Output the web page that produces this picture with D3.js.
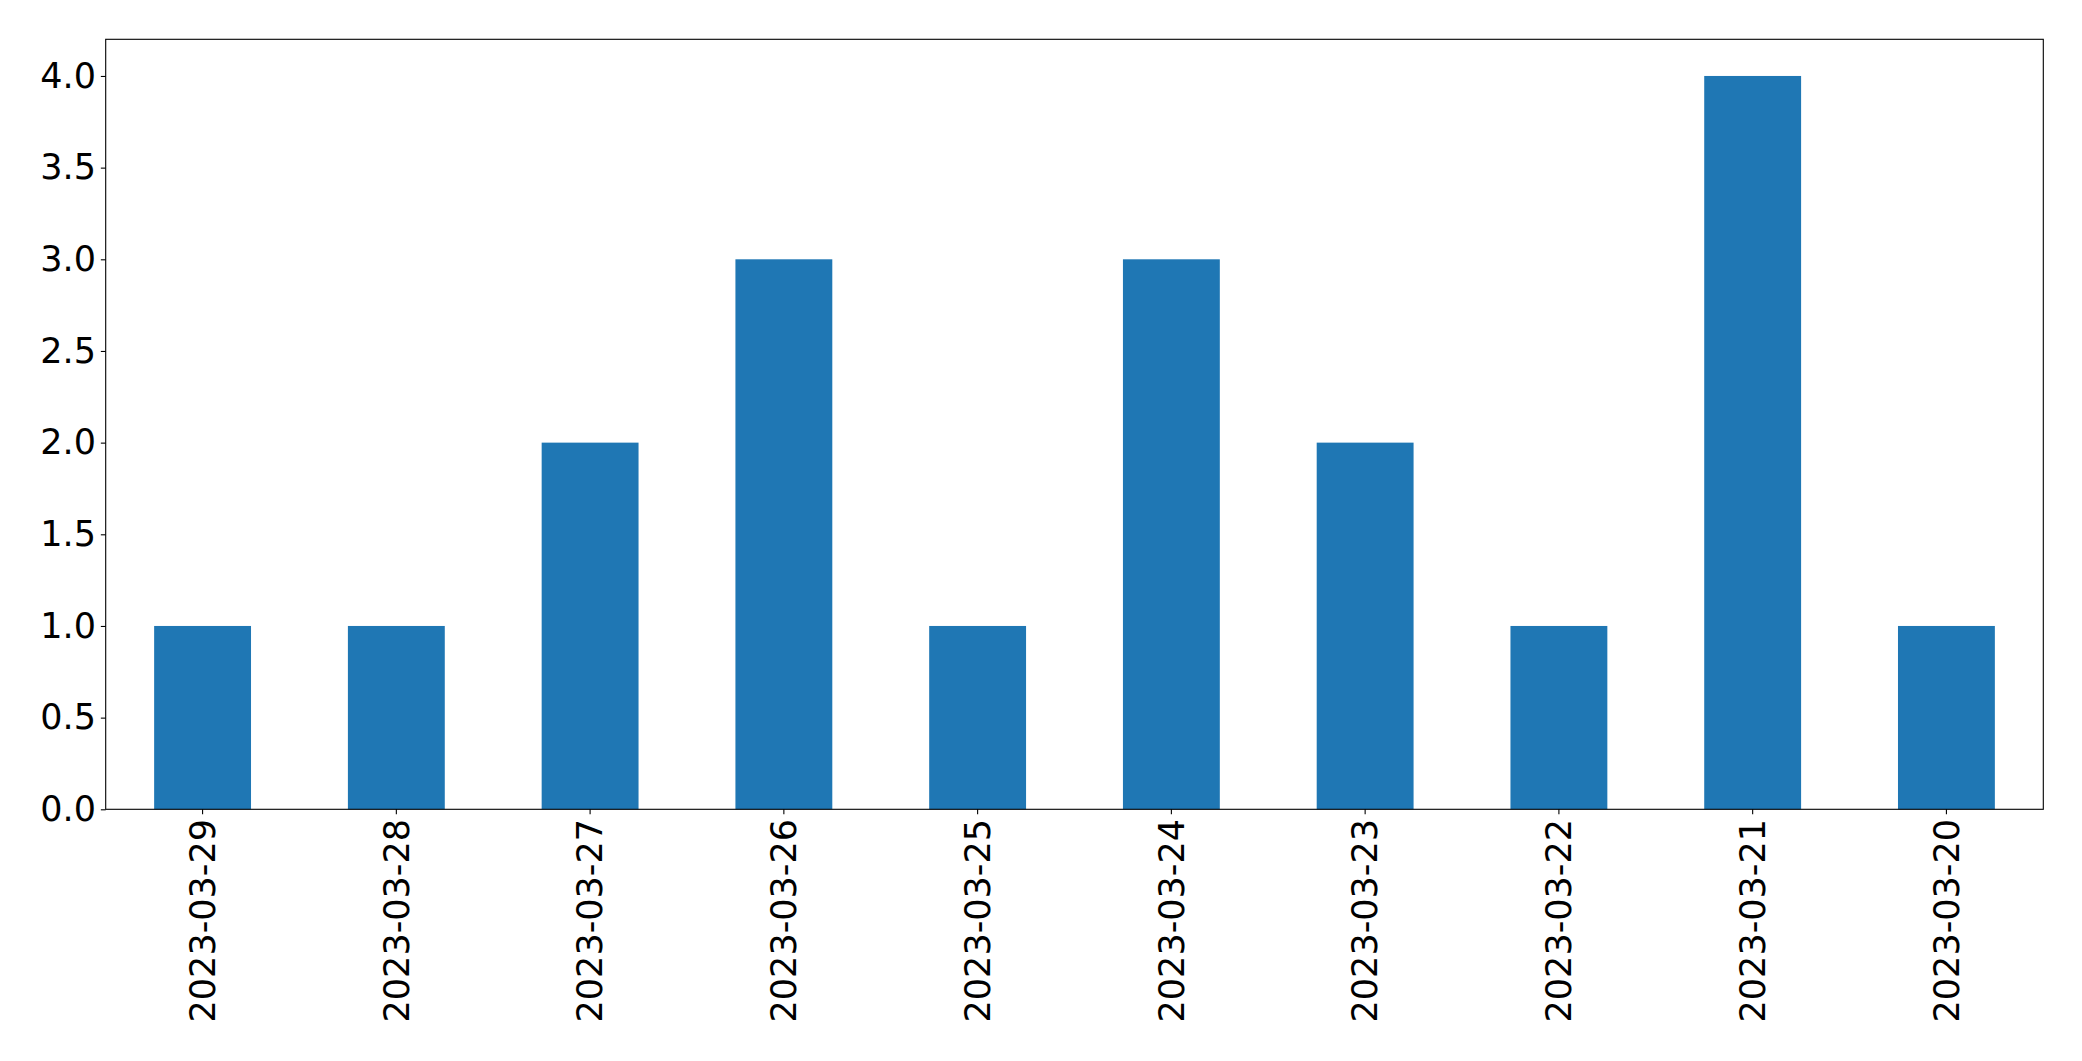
<!DOCTYPE html>
<html>
<head>
<meta charset="utf-8">
<script src="https://cdn.jsdelivr.net/npm/d3@7"></script>
<style>
  html, body { margin: 0; padding: 0; background: #fff; }
  svg { display: block; }
</style>
</head>
<body>
<script>
const categories = ["2023-03-29","2023-03-28","2023-03-27","2023-03-26","2023-03-25","2023-03-24","2023-03-23","2023-03-22","2023-03-21","2023-03-20"];
const values = [1,1,2,3,1,3,2,1,4,1];
const yTicks = [0,0.5,1,1.5,2,2.5,3,3.5,4];

const W = 2082, H = 1061;
const margin = {left: 105.7, right: W - 2043.3, top: 39.3, bottom: H - 809.3};
const fontSize = 35;
const tickLen = 4.86, tickPad = 4.86;

const svg = d3.select("body").append("svg").attr("width", W).attr("height", H)
  .style("font-family", "'DejaVu Sans', sans-serif");

const x = d3.scaleBand().domain(categories)
  .range([margin.left, W - margin.right])
  .paddingInner(0.5).paddingOuter(0.25);
const y = d3.scaleLinear().domain([0, 4.2]).range([H - margin.bottom, margin.top]);

svg.append("g").selectAll("rect").data(values).join("rect")
  .attr("x", (d, i) => x(categories[i]))
  .attr("width", x.bandwidth())
  .attr("y", d => y(d))
  .attr("height", d => y(0) - y(d))
  .attr("fill", "#1f77b4");

// Y axis
const yAxis = svg.append("g").attr("transform", `translate(${margin.left},0)`)
  .call(d3.axisLeft(y).tickValues(yTicks).tickFormat(d3.format(".1f")).tickSize(tickLen).tickPadding(tickPad));
yAxis.select(".domain").remove();
yAxis.selectAll("text").attr("font-size", fontSize).attr("font-family", "'DejaVu Sans', sans-serif").attr("fill", "#000");
yAxis.selectAll("line").attr("stroke", "#000").attr("stroke-width", 1.1);

// X axis
const xAxis = svg.append("g").attr("transform", `translate(0,${H - margin.bottom})`)
  .call(d3.axisBottom(x).tickSize(tickLen).tickPadding(tickPad));
xAxis.select(".domain").remove();
xAxis.selectAll("line").attr("stroke", "#000").attr("stroke-width", 1.1);
xAxis.selectAll("text")
  .attr("font-size", fontSize).attr("font-family", "'DejaVu Sans', sans-serif").attr("fill", "#000")
  .attr("transform", `translate(0,${tickLen + tickPad}) rotate(-90)`)
  .attr("x", 0).attr("y", 0).attr("dy", "0.35em")
  .attr("text-anchor", "end");

// Frame
svg.append("rect")
  .attr("x", margin.left).attr("y", margin.top)
  .attr("width", W - margin.right - margin.left)
  .attr("height", H - margin.bottom - margin.top)
  .attr("fill", "none").attr("stroke", "#000").attr("stroke-width", 1.1);
</script>
</body>
</html>
